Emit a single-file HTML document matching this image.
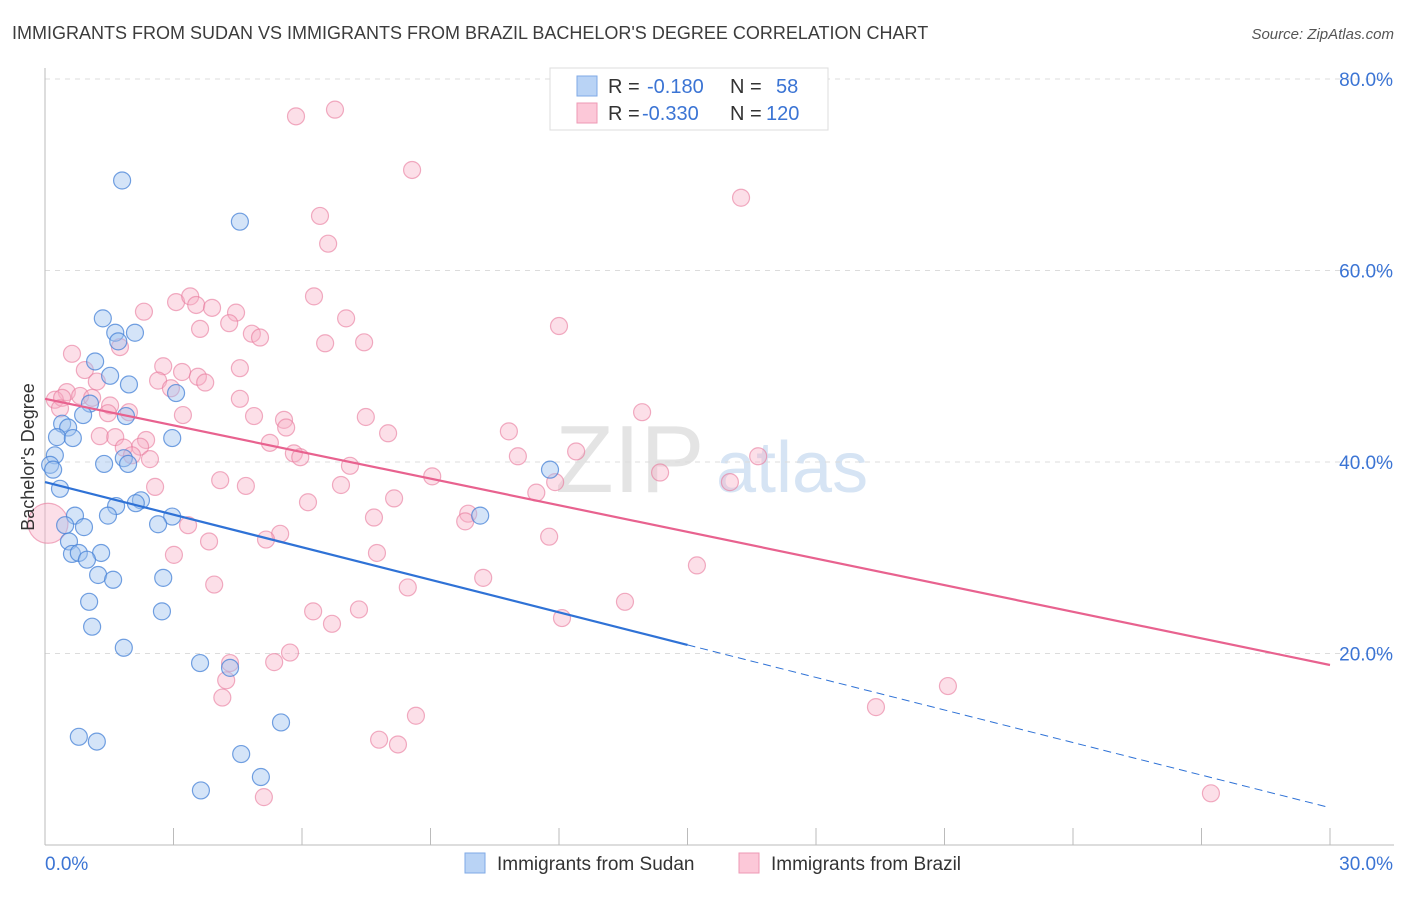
<!DOCTYPE html>
<html><head><meta charset="utf-8">
<style>
body{margin:0;background:#fff;font-family:"Liberation Sans",sans-serif;}
svg text{font-family:"Liberation Sans",sans-serif;}
</style></head>
<body>
<svg id="chart" width="1406" height="892" xmlns="http://www.w3.org/2000/svg">
<text x="12" y="39" font-size="18" fill="#3c3c3c">IMMIGRANTS FROM SUDAN VS IMMIGRANTS FROM BRAZIL BACHELOR'S DEGREE CORRELATION CHART</text>
<text x="1394" y="39" font-size="15" fill="#555" text-anchor="end" font-style="italic">Source: ZipAtlas.com</text>
<g>
<text x="555" y="492" font-size="96" fill="#e4e4e4" font-family="Liberation Serif" >ZIP</text>
<text x="716" y="492" font-size="72" fill="#d6e4f4">atlas</text>
</g>
<g id="grid"></g>
<g id="axes"></g>
<g id="pts"></g>
<g id="trend"></g>
<text transform="translate(34,457) rotate(-90)" font-size="18" fill="#333" text-anchor="middle">Bachelor's Degree</text>
<g>
<rect x="550" y="68" width="278" height="62" fill="#fff" stroke="#ddd"/>
<rect x="577" y="76" width="20" height="20" fill="#b9d3f5" stroke="#7fa9e6"/>
<rect x="577" y="103" width="20" height="20" fill="#fcc8d8" stroke="#ee99b4"/>
<text x="608" y="93" font-size="20" fill="#333">R = </text><text x="647" y="93" font-size="20" fill="#3b74d4">-0.180</text>
<text x="730" y="93" font-size="20" fill="#333">N = </text><text x="776" y="93" font-size="20" fill="#3b74d4">58</text>
<text x="608" y="120" font-size="20" fill="#333">R = </text><text x="642" y="120" font-size="20" fill="#3b74d4">-0.330</text>
<text x="730" y="120" font-size="20" fill="#333">N = </text><text x="766" y="120" font-size="20" fill="#3b74d4">120</text>
</g>
<g>
<g><rect x="465" y="853" width="20" height="20" fill="#b9d3f5" stroke="#7fa9e6"/><text x="497" y="870" font-size="19" fill="#333">Immigrants from Sudan</text></g>
<g><rect x="739" y="853" width="20" height="20" fill="#fcc8d8" stroke="#ee99b4"/><text x="771" y="870" font-size="19" fill="#333">Immigrants from Brazil</text></g>
</g>
</svg>
<script>
const xTicks=[0,3,6,9,12,15,18,21,24,27,30];
const yTicks=[20,40,60,80];
const sudanX=[1.80,4.55,1.35,1.64,2.10,1.71,1.17,1.52,1.96,3.06,1.05,0.89,1.89,0.40,0.54,0.28,0.65,2.97,0.23,1.84,1.94,1.38,0.12,0.19,11.79,0.35,1.66,2.24,2.12,1.47,0.70,2.97,10.16,0.47,0.91,2.64,0.56,0.63,1.31,0.79,0.98,1.24,1.59,2.76,1.03,2.73,1.10,1.84,3.62,4.32,5.51,0.79,1.21,4.58,5.04,3.64];
const sudanY=[69.4,65.1,55.0,53.5,53.5,52.6,50.5,49.0,48.1,47.2,46.1,44.9,44.8,44.0,43.6,42.6,42.5,42.5,40.7,40.4,39.8,39.8,39.7,39.2,39.2,37.2,35.4,36.0,35.7,34.4,34.4,34.3,34.4,33.4,33.2,33.5,31.7,30.4,30.5,30.5,29.8,28.2,27.7,27.9,25.4,24.4,22.8,20.6,19.0,18.5,12.8,11.3,10.8,9.5,7.1,5.7];
const brazilX=[5.86,6.77,8.57,16.25,6.42,6.61,6.28,3.06,3.39,3.53,3.90,4.46,2.31,7.03,4.30,12.00,3.62,4.83,5.02,6.54,7.45,1.75,0.63,2.76,4.55,0.93,3.20,3.57,1.21,2.64,3.74,2.94,0.51,0.82,1.10,0.23,0.40,4.55,1.52,0.35,1.96,1.47,13.94,3.22,4.88,7.49,5.58,5.63,10.83,8.01,1.28,1.64,2.36,5.25,2.22,1.84,12.40,5.81,5.96,11.04,16.65,2.45,2.03,7.12,14.36,9.04,4.09,15.99,11.91,4.69,2.57,6.91,11.47,8.15,6.14,9.88,7.68,9.81,3.34,0.07,5.49,5.16,3.83,11.77,7.75,3.01,15.22,10.23,3.95,8.47,13.54,7.33,6.26,12.07,6.70,5.72,5.35,4.32,4.23,21.08,4.14,19.40,8.66,7.80,8.24,5.11,27.22];
const brazilY=[76.1,76.8,70.5,67.6,65.7,62.8,57.3,56.7,57.3,56.4,56.1,55.6,55.7,55.0,54.5,54.2,53.9,53.4,53.0,52.4,52.5,52.0,51.3,50.0,49.8,49.6,49.4,48.9,48.4,48.5,48.3,47.7,47.3,46.9,46.7,46.5,46.7,46.6,45.9,45.6,45.2,45.1,45.2,44.9,44.8,44.7,44.4,43.6,43.2,43.0,42.7,42.6,42.3,42.0,41.6,41.5,41.1,40.9,40.5,40.6,40.6,40.3,40.7,39.6,38.9,38.5,38.1,37.9,37.9,37.5,37.4,37.6,36.8,36.2,35.8,34.6,34.2,33.8,33.4,33.6,32.5,31.9,31.7,32.2,30.5,30.3,29.2,27.9,27.2,26.9,25.4,24.6,24.4,23.7,23.1,20.1,19.1,19.0,17.2,16.6,15.4,14.4,13.5,11.0,10.5,5.0,5.4];
const sudanTrend=[37.9,3.9];
const brazilTrend=[46.6,18.8];
const sudanSolidEnd=15.0;

const X=v=>45+v*(1285/30);
const Y=v=>845-v*(766/80);
const NS='http://www.w3.org/2000/svg';
function mk(t,a,p){const e=document.createElementNS(NS,t);for(const k in a)e.setAttribute(k,a[k]);p.appendChild(e);return e;}
const grid=document.getElementById('grid'),axes=document.getElementById('axes'),pts=document.getElementById('pts'),tr=document.getElementById('trend');
yTicks.forEach(v=>{
 const l=mk('line',{x1:45,x2:1394,y1:Y(v),y2:Y(v),stroke:'#dcdcdc','stroke-dasharray':'5,5'},grid);
 
 
 const t=mk('text',{x:1393,y:Y(v)+7,'font-size':19,fill:'#3b74d4','text-anchor':'end'},axes);
 t.textContent=v.toFixed(1)+'%';
 
 
});
mk('line',{x1:45,x2:45,y1:68,y2:845,stroke:'#bbb'},axes);
mk('line',{x1:45,x2:1394,y1:845,y2:845,stroke:'#bbb'},axes);
xTicks.forEach(v=>{
 const l=mk('line',{x1:X(v),x2:X(v),y1:828,y2:845,stroke:'#bbb'},axes);
 
 
});
[[0,45,'start'],[30,1393,'end']].forEach(([v,x,a])=>{
 const t=mk('text',{x:x,y:870,'font-size':19,fill:'#3b74d4','text-anchor':a},axes);
 t.textContent=v.toFixed(1)+'%';
 
 
});
brazilX.forEach((v,i)=>{
 const c=mk('circle',{cx:X(v),cy:Y(brazilY[i]),r:(i==79?20:8.5),fill:'rgba(248,175,198,0.4)',stroke:'rgba(232,120,155,0.6)','stroke-width':1.2},pts);
 
 
});
sudanX.forEach((v,i)=>{
 const c=mk('circle',{cx:X(v),cy:Y(sudanY[i]),r:8.5,fill:'rgba(160,196,240,0.45)',stroke:'rgba(70,130,215,0.75)','stroke-width':1.2},pts);
 
 
});
const sy=x=>sudanTrend[0]+(sudanTrend[1]-sudanTrend[0])*x/30;
let l1=mk('line',{x1:X(0),y1:Y(sudanTrend[0]),x2:X(sudanSolidEnd),y2:Y(sy(sudanSolidEnd)),stroke:'#2f72d6','stroke-width':2.2},tr);


let l2=mk('line',{x1:X(sudanSolidEnd),y1:Y(sy(sudanSolidEnd)),x2:X(30),y2:Y(sudanTrend[1]),stroke:'#2f72d6','stroke-width':1,'stroke-dasharray':'8,5'},tr);


let l3=mk('line',{x1:X(0),y1:Y(brazilTrend[0]),x2:X(30),y2:Y(brazilTrend[1]),stroke:'#e8628f','stroke-width':2.2},tr);


</script>
</body></html>
